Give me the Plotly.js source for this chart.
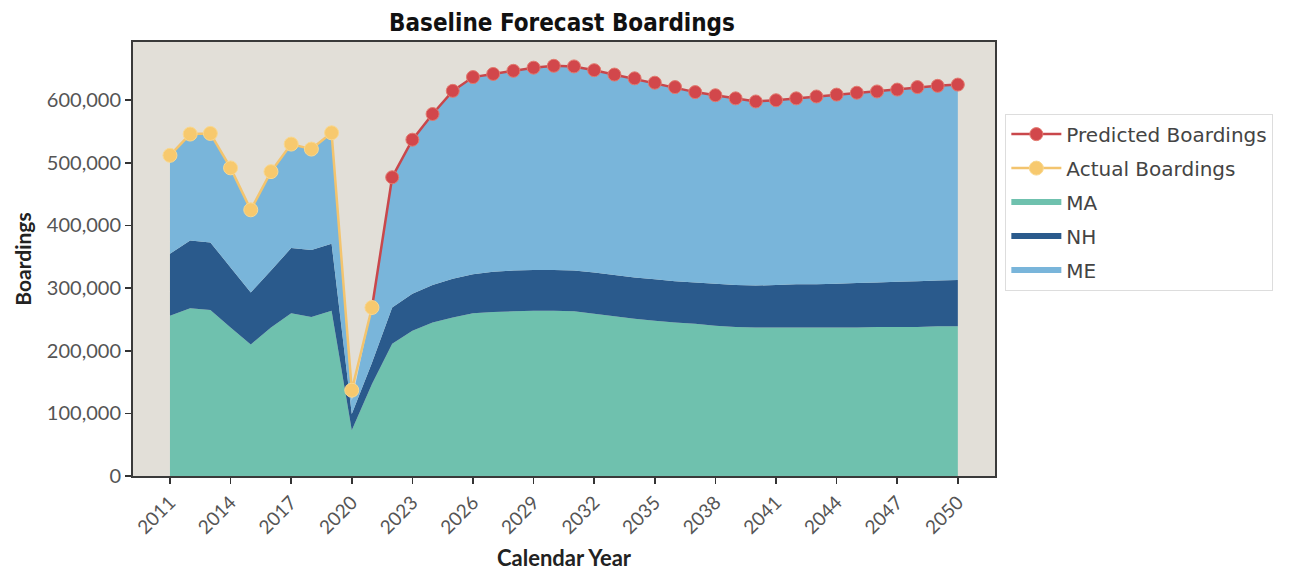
<!DOCTYPE html>
<html>
<head>
<meta charset="utf-8">
<script src="https://cdn.plot.ly/plotly-3.0.1.min.js"></script>
<style>html,body{margin:0;padding:0;background:#fff;}#chart{width:1307px;height:571px;}</style>
</head>
<body>
<div id="chart"></div>
<script>
const years = [];
for (let y = 2011; y <= 2050; y++) years.push(y);

const maValues = [256000,268000,265000,237000,210000,237000,260000,254000,264000,73000,147000,211000,232000,245000,253000,260000,262000,263000,264000,264000,263000,259000,255000,251000,248000,245000,243000,240000,238000,237000,237000,237000,237000,237000,237000,238000,238000,238000,239000,239000];
const nhValues = [99000,108000,108000,96000,83000,91000,104000,107000,107000,26000,34000,58000,59000,60000,62000,62000,64000,65000,65000,65000,65000,66000,66000,66000,66000,66000,66000,67000,67000,67000,68000,69000,69000,70000,71000,71000,72000,73000,73000,74000];
const meValues = [157000,169000,173000,159000,132000,158000,166000,161000,177000,21000,88000,208000,246000,273000,300000,315000,316000,319000,323000,326000,326000,323000,320000,318000,314000,310000,304000,301000,298000,294000,295000,297000,300000,302000,304000,305000,307000,310000,311000,312000];

const actualYears = [2011,2012,2013,2014,2015,2016,2017,2018,2019,2020,2021];
const actualValues = [512000,546000,547000,492000,425000,486000,530000,522000,548000,137000,269000];

const predictedYears = [2021,2022,2023,2024,2025,2026,2027,2028,2029,2030,2031,2032,2033,2034,2035,2036,2037,2038,2039,2040,2041,2042,2043,2044,2045,2046,2047,2048,2049,2050];
const predictedValues = [269000,477000,537000,578000,615000,637000,642000,647000,652000,655000,654000,648000,641000,635000,628000,621000,613000,608000,603000,598000,600000,603000,606000,609000,612000,614000,617000,621000,623000,625000];

const xTickVals = [2011,2014,2017,2020,2023,2026,2029,2032,2035,2038,2041,2044,2047,2050];
const xTickText = xTickVals.map(String);
const yTickVals = [0,100000,200000,300000,400000,500000,600000];

const FONT = 'Lato, "Open Sans", sans-serif';
const WIDE = '"DejaVu Sans", Lato, sans-serif';

const traces = [
  {x: years, y: maValues, name: 'MA', type: 'scatter', mode: 'none', stackgroup: 'one',
   fillcolor: '#6fc1ae', legendrank: 3, legendgroup: 'ma'},
  {x: years, y: nhValues, name: 'NH', type: 'scatter', mode: 'none', stackgroup: 'one',
   fillcolor: '#2a5a8c', legendrank: 4, legendgroup: 'nh'},
  {x: years, y: meValues, name: 'ME', type: 'scatter', mode: 'none', stackgroup: 'one',
   fillcolor: '#79b5da', legendrank: 5, legendgroup: 'me'},
  {x: predictedYears, y: predictedValues, name: 'Predicted Boardings', type: 'scatter', mode: 'lines+markers',
   line: {color: '#c9474b', width: 2.5}, marker: {color: '#d2474b', size: 13, line: {color: '#e27a6f', width: 1}},
   legendrank: 1, legendgroup: 'pred'},
  {x: actualYears, y: actualValues, name: 'Actual Boardings', type: 'scatter', mode: 'lines+markers',
   line: {color: '#f3c46e', width: 2.5}, marker: {color: '#f7c96e', size: 14, line: {color: '#f9d88f', width: 1}},
   legendrank: 2, legendgroup: 'act'}
];

const layout = {
  width: 1307, height: 571,
  margin: {l: 133, r: 312, t: 42, b: 95},
  paper_bgcolor: '#ffffff',
  plot_bgcolor: '#e2dfd8',
  font: {family: FONT, color: '#555555', size: 16},
  title: {text: '<b>Baseline Forecast Boardings</b>', x: 0.43, xanchor: 'center', y: 0.975, yanchor: 'top',
          font: {family: '"DejaVu Sans Condensed", "DejaVu Sans", sans-serif', size: 24, color: '#111111'}},
  showlegend: true,
  legend: {x: 1.012, xanchor: 'left', y: 0.835, yanchor: 'top', traceorder: 'grouped',
           bgcolor: '#ffffff', bordercolor: '#dddddd', borderwidth: 1,
           font: {family: WIDE, size: 20, color: '#444444'}, tracegroupgap: 5, itemwidth: 50},
  xaxis: {
    range: [2009.17, 2051.84],
    tickvals: xTickVals, ticktext: xTickText, tickangle: -45,
    ticks: 'outside', ticklen: 6, tickcolor: '#333333', tickwidth: 1.5,
    showgrid: false, zeroline: false,
    showline: true, linecolor: '#3a3a3a', linewidth: 2, mirror: true,
    tickfont: {family: FONT, size: 19, color: '#555555'},
    title: {text: '<b>Calendar Year</b>', font: {family: FONT, size: 22, color: '#222222'}, standoff: 16}
  },
  yaxis: {
    range: [0, 693000],
    tickvals: yTickVals, tickformat: ',d',
    ticks: 'outside', ticklen: 6, tickcolor: '#333333', tickwidth: 1.5,
    showgrid: false, zeroline: false,
    showline: true, linecolor: '#3a3a3a', linewidth: 2, mirror: true,
    tickfont: {family: FONT, size: 20, color: '#555555'},
    title: {text: '<b>Boardings</b>', font: {family: FONT, size: 21, color: '#222222'}, standoff: 10}
  },
  hovermode: false
};

Plotly.newPlot('chart', traces, layout, {displayModeBar: false, staticPlot: true});
</script>
</body>
</html>
